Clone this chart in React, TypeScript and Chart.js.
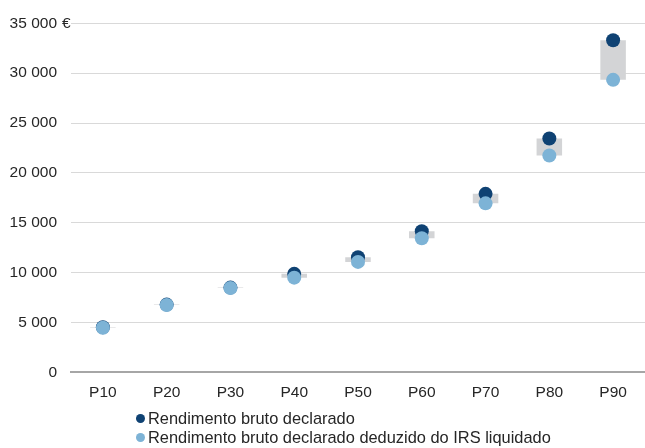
import React, { useEffect, useRef } from "react";
import { Chart, registerables } from "chart.js";

Chart.register(...registerables);

const categories = ["P10", "P20", "P30", "P40", "P50", "P60", "P70", "P80", "P90"];
const grossDeclared = [4520, 6800, 8500, 9880, 11550, 14150, 17900, 23450, 33300];
const grossNetOfIRS = [4480, 6760, 8460, 9500, 11080, 13450, 16950, 21750, 29330];
const yTicks = [0, 5000, 10000, 15000, 20000, 25000, 30000, 35000];
const legendLabels = [
  "Rendimento bruto declarado",
  "Rendimento bruto declarado deduzido do IRS liquidado",
];

const DARK = "#0f4273";
const LIGHT = "#7db3d6";
const BAND = "#d3d4d6";
const FONT = "'Liberation Sans', Arial, sans-serif";
const TICK_SIZE = 15.5;

const fmt = (v: number) => String(v).replace(/\B(?=(\d{3})+(?!\d))/g, " ");

const euroPlugin = {
  id: "euroSuffix",
  afterDraw(chart: any) {
    const y = chart.scales.y;
    const ctx = chart.ctx;
    const top = yTicks[yTicks.length - 1];
    ctx.save();
    ctx.font = `${TICK_SIZE}px ${FONT}`;
    ctx.fillStyle = "#262626";
    ctx.textAlign = "left";
    ctx.textBaseline = "middle";
    ctx.fillText("€", y.right - 9, y.getPixelForValue(top));
    ctx.restore();
  },
};

export default function App() {
  const ref = useRef<HTMLCanvasElement | null>(null);

  useEffect(() => {
    document.body.style.margin = "0";
    const bands = categories.map((_, i) => [grossNetOfIRS[i], grossDeclared[i]]);
    const chart = new Chart(ref.current as HTMLCanvasElement, {
      type: "bar",
      data: {
        labels: categories,
        datasets: [
          {
            type: "line",
            label: legendLabels[1],
            data: grossNetOfIRS,
            showLine: false,
            pointRadius: 7,
            pointHoverRadius: 7,
            pointBackgroundColor: LIGHT,
            pointBorderWidth: 0,
            borderColor: LIGHT,
            backgroundColor: LIGHT,
            clip: false,
          } as any,
          {
            type: "line",
            label: legendLabels[0],
            data: grossDeclared,
            showLine: false,
            pointRadius: 7,
            pointHoverRadius: 7,
            pointBackgroundColor: DARK,
            pointBorderWidth: 0,
            borderColor: DARK,
            backgroundColor: DARK,
            clip: false,
          } as any,
          {
            type: "bar",
            label: "band",
            data: bands as any,
            backgroundColor: BAND,
            borderWidth: 0,
            barPercentage: 0.4,
            categoryPercentage: 1,
          } as any,
        ],
      },
      options: {
        animation: false,
        responsive: false,
        maintainAspectRatio: false,
        layout: { autoPadding: false, padding: { top: 7.7, right: 0, bottom: 35, left: 0 } },
        plugins: { legend: { display: false }, tooltip: { enabled: false } },
        scales: {
          x: {
            grid: { display: false, drawTicks: false },
            border: { display: true, color: "#a6a6a6", width: 2 },
            ticks: { color: "#262626", font: { family: FONT, size: TICK_SIZE }, padding: 11 },
          },
          y: {
            min: 0,
            max: 35000,
            afterFit: (s: any) => {
              s.width = 71;
            },
            afterBuildTicks: (s: any) => {
              s.ticks = yTicks.map((v) => ({ value: v }));
            },
            grid: { color: "#d9d9d9", lineWidth: 1, drawTicks: false },
            border: { display: false },
            ticks: {
              color: "#262626",
              font: { family: FONT, size: TICK_SIZE },
              padding: 14,
              callback: (v: any) => fmt(Number(v)),
            },
          },
        },
      },
      plugins: [euroPlugin],
    });
    return () => chart.destroy();
  }, []);

  return (
    <div style={{ position: "relative", width: 645, height: 448, background: "#fff" }}>
      <canvas ref={ref} width={645} height={448} style={{ display: "block" }} />
      <div
        style={{
          position: "absolute",
          left: 136,
          top: 409,
          fontFamily: FONT,
          fontSize: 16.4,
          color: "#262626",
          lineHeight: "19px",
        }}
      >
        {legendLabels.map((l, i) => (
          <div key={l} style={{ display: "flex", alignItems: "center", whiteSpace: "nowrap" }}>
            <span
              style={{
                display: "inline-block",
                width: 9,
                height: 9,
                borderRadius: "50%",
                background: i === 0 ? DARK : LIGHT,
                marginRight: 3,
              }}
            />
            <span>{l}</span>
          </div>
        ))}
      </div>
    </div>
  );
}
